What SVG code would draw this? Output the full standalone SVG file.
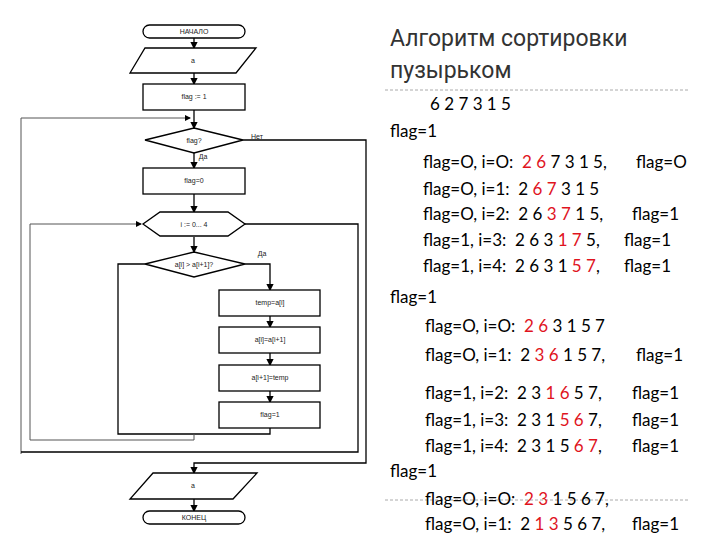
<svg xmlns="http://www.w3.org/2000/svg" width="720" height="540" viewBox="0 0 720 540">
<style>
.s{fill:#fff;stroke:#000;stroke-width:1.3}
.c{fill:none;stroke:#000;stroke-width:1.3}
.c2{fill:none;stroke:#555;stroke-width:1}
.t{font-family:"Liberation Sans",Arial,sans-serif;font-size:7px;text-anchor:middle;fill:#222}
.l{font-family:Lato,"Open Sans",sans-serif;font-size:17px;fill:#000}
.r{fill:#e0141e}
.h{font-family:Roboto,"Liberation Sans",sans-serif;font-size:23px;fill:#333}
.d{stroke:#aaa;stroke-width:1;stroke-dasharray:3 2}
</style>
<defs><marker id="a" markerWidth="6" markerHeight="6" refX="5" refY="3" orient="auto"><path d="M0,0L6,3L0,6z" fill="#000"/></marker></defs>
<g id="connectors">
<path class="c" d="M194,38V48" marker-end="url(#a)"/>
<path class="c" d="M194,73V84" marker-end="url(#a)"/>
<path class="c" d="M194,110V128" marker-end="url(#a)"/>
<path class="c2" d="M21,454V118H190" marker-end="url(#a)"/>
<path class="c" d="M194,153V168" marker-end="url(#a)"/>
<path class="c" d="M194,194V212" marker-end="url(#a)"/>
<path class="c2" d="M30,440V224H141" marker-end="url(#a)"/>
<path class="c" d="M194,237V252" marker-end="url(#a)"/>
<path class="c" d="M245,264H270V290" marker-end="url(#a)"/>
<path class="c" d="M270,316V327" marker-end="url(#a)"/>
<path class="c" d="M270,353V365" marker-end="url(#a)"/>
<path class="c" d="M270,391V402" marker-end="url(#a)"/>
<path class="c" d="M270,428V434H118V264H145"/>
<path class="c2" d="M194,434V440H30"/>
<path class="c" d="M245,224H358V452H21"/>
<path class="c" d="M243,140H366V463H194V473" marker-end="url(#a)"/>
<path class="c" d="M194,499V511" marker-end="url(#a)"/>
</g>
<g id="start"><rect class="s" x="143" y="25" width="102" height="13" rx="6.5"/><text class="t" x="194" y="34">НАЧАЛО</text></g>
<g id="input"><path class="s" d="M145,48H256L236,73H130z"/><text class="t" x="193" y="63">a</text></g>
<g id="flag1"><rect class="s" x="143" y="84" width="102" height="26"/><text class="t" x="194" y="99">flag := 1</text></g>
<g id="cond1"><path class="s" d="M194,128L243,140L194,153L145,140z"/><text class="t" x="194" y="143">flag?</text></g>
<text class="t" x="257" y="139">Нет</text>
<text class="t" x="203" y="159">Да</text>
<g id="flag0"><rect class="s" x="143" y="168" width="102" height="26"/><text class="t" x="194" y="183">flag=0</text></g>
<g id="loop"><path class="s" d="M160,212H228L245,224L228,236H160L143,224z"/><text class="t" x="194" y="227">i := 0... 4</text></g>
<g id="cond2"><path class="s" d="M194,252L245,264L194,277L145,264z"/><text class="t" x="194" y="267">a[i] &gt; a[i+1]?</text></g>
<text class="t" x="262" y="256">Да</text>
<g id="b1"><rect class="s" x="219" y="290" width="101" height="26"/><text class="t" x="270" y="305">temp=a[i]</text></g>
<g id="b2"><rect class="s" x="219" y="327" width="101" height="26"/><text class="t" x="270" y="342">a[i]=a[i+1]</text></g>
<g id="b3"><rect class="s" x="219" y="365" width="101" height="26"/><text class="t" x="270" y="380">a[i+1]=temp</text></g>
<g id="b4"><rect class="s" x="219" y="402" width="101" height="26"/><text class="t" x="270" y="417">flag=1</text></g>
<g id="output"><path class="s" d="M153,473H257L233,499H130z"/><text class="t" x="193" y="488">a</text></g>
<g id="end"><rect class="s" x="143" y="511" width="102" height="13" rx="6.5"/><text class="t" x="194" y="520">КОНЕЦ</text></g>

<text class="h" x="390" y="46">Алгоритм сортировки</text>
<text class="h" x="390" y="78">пузырьком</text>
<line class="d" x1="385" y1="90" x2="688" y2="90"/>
<line class="d" x1="385" y1="500" x2="688" y2="500"/>
<g class="l">
<text x="430" y="110" xml:space="preserve">6 2 7 3 1 5</text>
<text x="390" y="137">flag=1</text>
<text x="423" y="168" xml:space="preserve">flag=O, i=O:  <tspan class="r">2 6</tspan> 7 3 1 5,</text><text x="636" y="168">flag=O</text>
<text x="423" y="195" xml:space="preserve">flag=O, i=1:  2 <tspan class="r">6 7</tspan> 3 1 5</text>
<text x="423" y="220" xml:space="preserve">flag=O, i=2:  2 6 <tspan class="r">3 7</tspan> 1 5,</text><text x="632" y="220">flag=1</text>
<text x="423" y="246" xml:space="preserve">flag=1, i=3:  2 6 3 <tspan class="r">1 7</tspan> 5,</text><text x="624" y="246">flag=1</text>
<text x="423" y="272" xml:space="preserve">flag=1, i=4:  2 6 3 1 <tspan class="r">5 7</tspan>,</text><text x="624" y="272">flag=1</text>
<text x="390" y="303">flag=1</text>
<text x="425" y="332" xml:space="preserve">flag=O, i=O:  <tspan class="r">2 6</tspan> 3 1 5 7</text>
<text x="425" y="361" xml:space="preserve">flag=O, i=1:  2 <tspan class="r">3 6</tspan> 1 5 7,</text><text x="636" y="361">flag=1</text>
<text x="425" y="399" xml:space="preserve">flag=1, i=2:  2 3 <tspan class="r">1 6</tspan> 5 7,</text><text x="632" y="399">flag=1</text>
<text x="425" y="426" xml:space="preserve">flag=1, i=3:  2 3 1 <tspan class="r">5 6</tspan> 7,</text><text x="632" y="426">flag=1</text>
<text x="425" y="452" xml:space="preserve">flag=1, i=4:  2 3 1 5 <tspan class="r">6 7</tspan>,</text><text x="632" y="452">flag=1</text>
<text x="390" y="477">flag=1</text>
<text x="425" y="505" xml:space="preserve">flag=O, i=O:  <tspan class="r">2 3</tspan> 1 5 6 7,</text>
<text x="425" y="530" xml:space="preserve">flag=O, i=1:  2 <tspan class="r">1 3</tspan> 5 6 7,</text><text x="632" y="530">flag=1</text>
</g>
</svg>
